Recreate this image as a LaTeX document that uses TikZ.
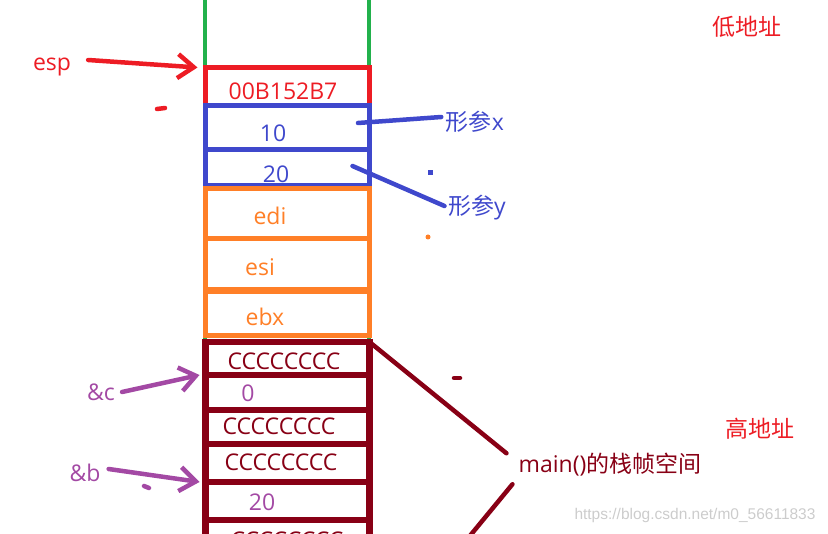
\documentclass[tikz,border=0pt]{standalone}
\usepackage{fontspec}
\setmainfont{Open Sans}
\newfontfamily\cjk{Noto Sans CJK SC}
\newfontfamily\wmfont{Liberation Sans}
\usepackage{tikz}
\usetikzlibrary{arrows.meta,positioning,calc}
\usepackage{xcolor}
\definecolor{pred}{RGB}{237,28,36}
\definecolor{pblue}{RGB}{63,72,204}
\definecolor{porange}{RGB}{255,127,39}
\definecolor{pgreen}{RGB}{34,177,76}
\definecolor{pmaroon}{RGB}{136,0,21}
\definecolor{ppurple}{RGB}{163,73,164}

\begin{document}
\begin{tikzpicture}[x=1pt,y=-1pt,
    txt/.style={font=\fontsize{23}{27}\selectfont, inner sep=0pt},
    cell/.style={rectangle, inner sep=0pt, outer sep=0pt, minimum width=164pt},
    hand/.style={line width=4.5pt, line cap=round},
    handarrow/.style={hand, -{Straight Barb[length=16pt,width=24pt]}},
  ]
    \clip (0,0) rectangle (828,534);

    % 栈的两条边
    \draw[pgreen, line width=4pt] (205,0) -- (205,534);
    \draw[pgreen, line width=4pt] (369,0) -- (369,534);

    % 返回地址和形参
    \node[cell, draw=pred, line width=5pt, minimum height=38.5pt] (ret) at (287.5,86.75) {};
    \node[cell, draw=pblue, line width=5pt, minimum height=44pt, below=0pt of ret] (argx) {};
    \node[cell, draw=pblue, line width=5pt, minimum height=36pt, below=0pt of argx] (argy) {};
    \node[txt, pred] at (283,91) {00B152B7};
    \node[txt, pblue] at (273,133) {10};
    \node[txt, pblue] at (276,174) {20};

    % 保存的寄存器
    \node[cell, draw=porange, line width=5pt, minimum height=50pt, below=3pt of argy] (edi) {};
    \node[cell, draw=porange, line width=5pt, minimum height=51pt, below=0pt of edi] (esi) {};
    \node[cell, draw=porange, line width=5pt, minimum height=44pt, below=1.5pt of esi] (ebx) {};
    \node[txt, porange] at (270,216) {edi};
    \node[txt, porange] at (260,267) {esi};
    \node[txt, porange] at (265,317) {ebx};

    % main()的栈帧
    \node[cell, draw=pmaroon, line width=6.5pt, minimum height=33pt, below=6.5pt of ebx] (c1) {};
    \node[cell, draw=pmaroon, line width=6.5pt, minimum height=35pt, below=0pt of c1] (c2) {};
    \node[cell, draw=pmaroon, line width=6.5pt, minimum height=34pt, below=0pt of c2] (c3) {};
    \node[cell, draw=pmaroon, line width=6.5pt, minimum height=38pt, below=0pt of c3] (c4) {};
    \node[cell, draw=pmaroon, line width=6.5pt, minimum height=38pt, below=0pt of c4] (c5) {};
    \node[cell, draw=pmaroon, line width=6.5pt, minimum height=50pt, below=0pt of c5] (c6) {};
    \node[txt, pmaroon] at (284,361) {CCCCCCCC};
    \node[txt, ppurple] at (248,393) {0};
    \node[txt, pmaroon] at (279,426) {CCCCCCCC};
    \node[txt, pmaroon] at (281,462) {CCCCCCCC};
    \node[txt, ppurple] at (262,502) {20};
    \node[txt, pmaroon] at (287,540) {CCCCCCCC};

    % 标签
    \node[txt, pred] (esp) at (52,67) {esp};
    \node[txt, pblue] (px) at (475,122) {{\cjk 形参}x};
    \node[txt, pblue] (py) at (477,208) {{\cjk 形参}y};
    \node[txt, ppurple] (refc) at (101,392) {\&c};
    \node[txt, ppurple] (refb) at (85,473) {\&b};
    \node[txt, pmaroon] (mainlbl) at (610,465) {main(){\cjk 的栈帧空间}};
    \node[txt, pred] (lowaddr) at (747,27) {\cjk 低地址};
    \node[txt, pred] (highaddr) at (760,429) {\cjk 高地址};
    \node[font=\wmfont\fontsize{15.5}{18}\selectfont, text=black!20, inner sep=0pt] (wm) at (695,515) {https://blog.csdn.net/m0\_56611833};

    % 指向
    \draw[handarrow, pred] ([xshift=17pt,yshift=7pt]esp.east) -- ([xshift=-8pt]ret.north west);
    \draw[hand, pblue] ([xshift=-11.5pt,yshift=5pt]argx.east) -- ([xshift=-4.5pt,yshift=5pt]px.west);
    \draw[hand, pblue] ([xshift=-17pt,yshift=2pt]argy.east) -- ([xshift=-3.5pt,yshift=2pt]py.west);
    \draw[handarrow, ppurple] ([xshift=7pt]refc.east) -- ([xshift=-6pt]c1.south west);
    \draw[handarrow, ppurple] ([xshift=8pt,yshift=4pt]refb.east) -- ([xshift=-6pt]c5.north west);
    \coordinate (frameend) at (455,554);
    \draw[hand, pmaroon] (c1.north east) -- ([xshift=-12pt]mainlbl.north west);
    \draw[hand, pmaroon] ([xshift=-6pt,yshift=-7.5pt]mainlbl.south west) -- (frameend);

    % 零散笔迹
    \draw[hand, pred] (157,109) -- (165,108);
    \fill[pblue] (427.5,170.5) rectangle (432.5,175.5);
    \fill[porange] (428,237) circle (2.5);
    \draw[hand, pmaroon] (454,378) -- (460,378);
    \draw[hand, ppurple] (144,486) -- (149,488);
\end{tikzpicture}
\end{document}
